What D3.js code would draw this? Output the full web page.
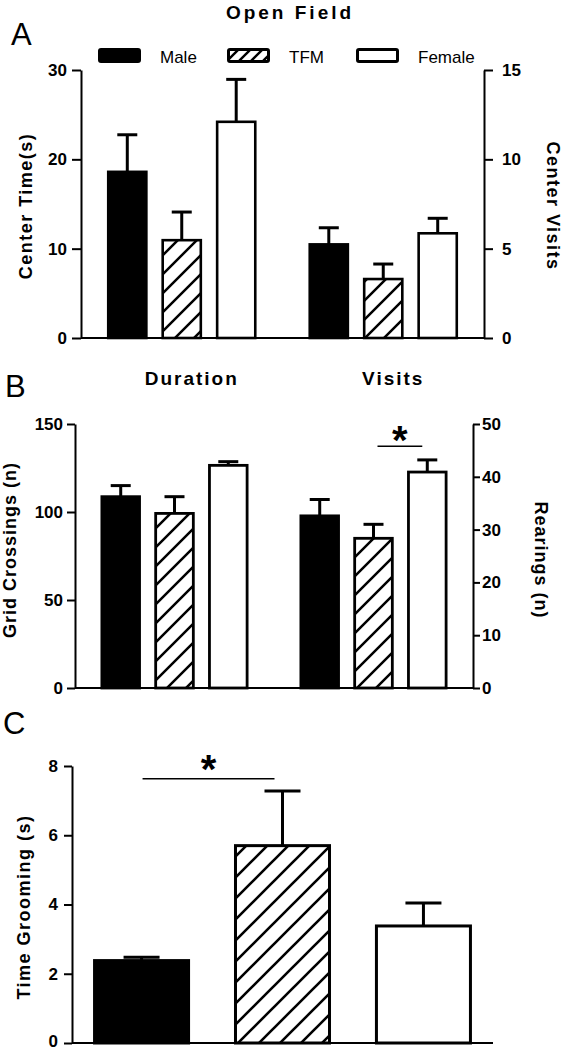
<!DOCTYPE html>
<html><head><meta charset="utf-8">
<script src="https://cdn.jsdelivr.net/npm/d3@7"></script>
<style>
html,body{margin:0;padding:0;background:#fff;}
svg text{font-family:Arial,"Liberation Sans",sans-serif;fill:#000;}
</style></head>
<body>
<div id="chart"></div>
<script>
// ---------- data ----------
const sexes = ["Male", "TFM", "Female"];
const groupsA = ["Duration", "Visits"];
const groupsB = ["Grid", "Rearings"];

const centerTime = [18.6, 10.95, 24.2];
const centerTimeSem = [4.15, 3.15, 4.75];
const centerVisits = [5.24, 3.3, 5.86];
const centerVisitsSem = [0.93, 0.84, 0.84];

const gridCrossings = [108.7, 99.2, 126.5];
const gridCrossingsSem = [6.3, 9.5, 2.1];
const rearings = [32.6, 28.35, 40.9];
const rearingsSem = [3.1, 2.65, 2.3];

const grooming = [2.38, 5.70, 3.38];
const groomingSem = [0.1, 1.58, 0.66];

const ticksALeft = [0, 10, 20, 30];
const ticksARight = [0, 5, 10, 15];
const ticksBLeft = [0, 50, 100, 150];
const ticksBRight = [0, 10, 20, 30, 40, 50];
const ticksC = [0, 2, 4, 6, 8];

const sigB = {from: "TFM", to: "Female", level: 45.8};
const sigC = {from: "Male", to: "TFM", level: 7.63};

// ---------- setup ----------
const W = 564, H = 1050;
const svg = d3.select("#chart").append("svg").attr("width", W).attr("height", H);
svg.append("rect").attr("width", W).attr("height", H).attr("fill", "#fff");

const defs = svg.append("defs");
function hatch(id, p, sw) {
  const pat = defs.append("pattern").attr("id", id).attr("patternUnits", "userSpaceOnUse")
    .attr("width", p).attr("height", p);
  pat.append("rect").attr("width", p).attr("height", p).attr("fill", "#fff");
  pat.append("path")
    .attr("d", `M0,${p} L${p},0 M${-p/2},${p/2} L${p/2},${-p/2} M${p/2},${1.5*p} L${1.5*p},${p/2}`)
    .attr("stroke", "#000").attr("stroke-width", sw);
}
hatch("hAB", 19, 2.5);
hatch("hC", 21, 2.6);
hatch("hL", 12, 2.4);

const fillFor = (s, hid) => s === "Male" ? "#000" : s === "TFM" ? `url(#${hid})` : "#fff";

function styleAxis(g, fs) {
  g.selectAll("path.domain").attr("stroke", "#000").attr("stroke-width", 2);
  g.selectAll(".tick line").attr("stroke", "#000").attr("stroke-width", 2);
  g.selectAll(".tick text").attr("font-size", fs).attr("font-weight", "bold")
    .attr("font-family", "Arial, 'Liberation Sans', sans-serif").attr("fill", "#000");
}

function drawBars(g, xPos, bw, vals, sems, y, hid, capHalf, sw) {
  sexes.forEach((s, i) => {
    const cx = xPos(s) + bw / 2;
    g.append("line").attr("x1", cx).attr("x2", cx)
      .attr("y1", y(vals[i])).attr("y2", y(vals[i] + sems[i]))
      .attr("stroke", "#000").attr("stroke-width", 3);
    g.append("line").attr("x1", cx - capHalf).attr("x2", cx + capHalf)
      .attr("y1", y(vals[i] + sems[i])).attr("y2", y(vals[i] + sems[i]))
      .attr("stroke", "#000").attr("stroke-width", 3);
    g.append("rect").attr("x", xPos(s)).attr("width", bw)
      .attr("y", y(vals[i])).attr("height", y(0) - y(vals[i]))
      .attr("fill", fillFor(s, hid)).attr("stroke", "#000").attr("stroke-width", sw);
  });
}

function rotLabel(text, x, y, angle, fs, ls) {
  svg.append("text").attr("transform", `translate(${x},${y}) rotate(${angle})`)
    .attr("text-anchor", "middle").attr("dominant-baseline", "central")
    .attr("font-size", fs).attr("font-weight", "bold").attr("letter-spacing", ls)
    .text(text);
}

// ---------- title / legend ----------
svg.append("text").attr("x", 290).attr("y", 19).attr("text-anchor", "middle")
  .attr("font-size", 19).attr("font-weight", "bold").attr("letter-spacing", 3).text("Open Field");

const legX = d3.scalePoint().domain(sexes).range([98, 356]);
sexes.forEach(s => {
  svg.append("rect").attr("x", legX(s) + 1.5).attr("y", 49.5).attr("width", 40).attr("height", 12)
    .attr("rx", 1.5).attr("fill", fillFor(s, "hL")).attr("stroke", "#000").attr("stroke-width", 3);
  svg.append("text").attr("x", legX(s) + 62).attr("y", 63).attr("font-size", 17).text(s);
});

// panel letters
svg.append("text").attr("x", 11).attr("y", 45).attr("font-size", 31).text("A");
svg.append("text").attr("x", 5).attr("y", 397).attr("font-size", 31).text("B");
svg.append("text").attr("x", 3).attr("y", 734).attr("font-size", 31).text("C");

// ---------- Panel A ----------
const gA = svg.append("g");
const xA = d3.scaleBand().domain(groupsA).range([81, 484]);
const xsA = d3.scaleBand().domain(sexes).range([0, xA.bandwidth()]).paddingInner(0.3).paddingOuter(0.5);
const yAL = d3.scaleLinear().domain([0, 30]).range([338, 70]);
const yAR = d3.scaleLinear().domain([0, 15]).range([338, 70]);

drawBars(gA, s => xA("Duration") + xsA(s), xsA.bandwidth(), centerTime, centerTimeSem, yAL, "hAB", 10, 2.6);
drawBars(gA, s => xA("Visits") + xsA(s), xsA.bandwidth(), centerVisits, centerVisitsSem, yAR, "hAB", 10, 2.6);

gA.append("line").attr("x1", 81).attr("x2", 484).attr("y1", yAL(0)).attr("y2", yAL(0))
  .attr("stroke", "#000").attr("stroke-width", 2);
const axAL = gA.append("g").attr("transform", "translate(81,0)")
  .call(d3.axisLeft(yAL).tickValues(ticksALeft).tickSize(9).tickSizeOuter(0).tickPadding(5));
styleAxis(axAL, 17);
const axAR = gA.append("g").attr("transform", "translate(484,0)")
  .call(d3.axisRight(yAR).tickValues(ticksARight).tickSize(9).tickSizeOuter(0).tickPadding(9));
styleAxis(axAR, 17);

rotLabel("Center Time(s)", 26, 206, -90, 18, 1.5);
rotLabel("Center Visits", 553, 206, 90, 18, 1.5);

groupsA.forEach(g => {
  svg.append("text").attr("x", xA(g) + xA.bandwidth() / 2 + 10).attr("y", 385)
    .attr("text-anchor", "middle").attr("font-size", 19).attr("font-weight", "bold")
    .attr("letter-spacing", 2).text(g);
});

// ---------- Panel B ----------
const gB = svg.append("g");
const xB = d3.scaleBand().domain(groupsB).range([75, 473]);
const xsB = d3.scaleBand().domain(sexes).range([0, xB.bandwidth()]).paddingInner(0.3).paddingOuter(0.5);
const yBL = d3.scaleLinear().domain([0, 150]).range([688, 424]);
const yBR = d3.scaleLinear().domain([0, 50]).range([688, 424]);

drawBars(gB, s => xB("Grid") + xsB(s), xsB.bandwidth(), gridCrossings, gridCrossingsSem, yBL, "hAB", 10, 2.8);
drawBars(gB, s => xB("Rearings") + xsB(s), xsB.bandwidth(), rearings, rearingsSem, yBR, "hAB", 10, 2.8);

gB.append("line").attr("x1", 75).attr("x2", 473).attr("y1", yBL(0)).attr("y2", yBL(0))
  .attr("stroke", "#000").attr("stroke-width", 2);
const axBL = gB.append("g").attr("transform", "translate(75,0)")
  .call(d3.axisLeft(yBL).tickValues(ticksBLeft).tickSize(8).tickSizeOuter(0).tickPadding(4));
styleAxis(axBL, 17);
const axBR = gB.append("g").attr("transform", "translate(473,0)")
  .call(d3.axisRight(yBR).tickValues(ticksBRight).tickSize(7).tickSizeOuter(0).tickPadding(2));
styleAxis(axBR, 17);

rotLabel("Grid Crossings (n)", 10, 550, -90, 18, 1);
rotLabel("Rearings (n)", 541, 560, 90, 18, 1);

{
  const cx1 = xB("Rearings") + xsB(sigB.from) + xsB.bandwidth() / 2 + 4;
  const cx2 = xB("Rearings") + xsB(sigB.to) + xsB.bandwidth() / 2 - 5;
  gB.append("line").attr("x1", cx1).attr("x2", cx2).attr("y1", yBR(sigB.level)).attr("y2", yBR(sigB.level))
    .attr("stroke", "#000").attr("stroke-width", 1.5);
  gB.append("text").attr("x", (cx1 + cx2) / 2).attr("y", yBR(sigB.level) + 8).attr("text-anchor", "middle")
    .attr("font-size", 40).attr("font-weight", "bold").text("*");
}

// ---------- Panel C ----------
const gC = svg.append("g");
const xC = d3.scaleBand().domain(sexes).range([72, 493]).paddingInner(0.333).paddingOuter(0.16);
const yC = d3.scaleLinear().domain([0, 8]).range([1043, 766]);

drawBars(gC, s => xC(s), xC.bandwidth(), grooming, groomingSem, yC, "hC", 18, 3);

gC.append("line").attr("x1", 72).attr("x2", 493).attr("y1", yC(0)).attr("y2", yC(0))
  .attr("stroke", "#000").attr("stroke-width", 2);
const axC = gC.append("g").attr("transform", "translate(72,0)")
  .call(d3.axisLeft(yC).tickValues(ticksC).tickSize(8).tickSizeOuter(0).tickPadding(6));
styleAxis(axC, 17);
axC.selectAll(".tick text").filter(d => d === 0).attr("dy", "0.2em");

rotLabel("Time Grooming (s)", 24, 907, -90, 18, 1.5);

{
  const cx1 = xC(sigC.from) + xC.bandwidth() / 2 + 1;
  const cx2 = xC(sigC.to) + xC.bandwidth() / 2 - 8;
  gC.append("line").attr("x1", cx1).attr("x2", cx2).attr("y1", yC(sigC.level)).attr("y2", yC(sigC.level))
    .attr("stroke", "#000").attr("stroke-width", 1.5);
  gC.append("text").attr("x", (cx1 + cx2) / 2).attr("y", yC(sigC.level) + 4).attr("text-anchor", "middle")
    .attr("font-size", 40).attr("font-weight", "bold").text("*");
}
</script>
</body></html>
